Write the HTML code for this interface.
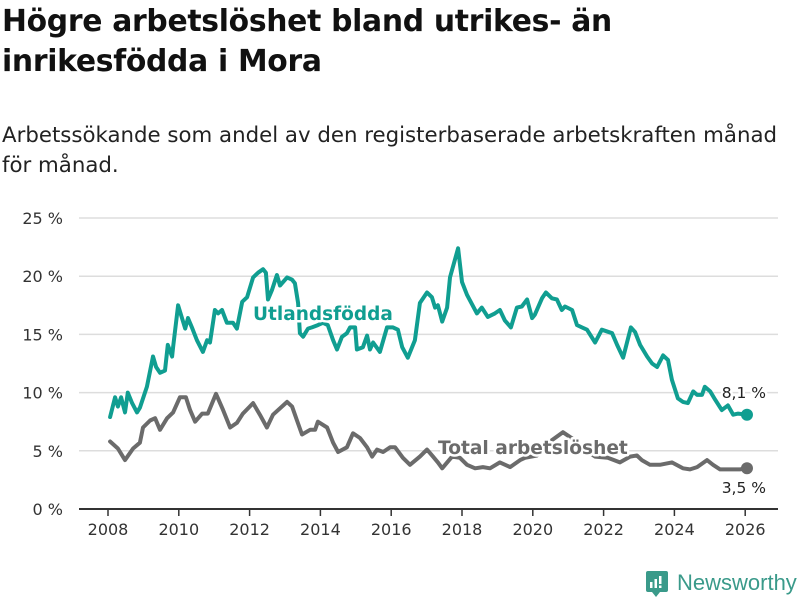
<!DOCTYPE html>
<html><head><meta charset="utf-8"><style>
body{margin:0;background:#fff;width:800px;height:600px;overflow:hidden;font-family:"Liberation Sans","DejaVu Sans",sans-serif;}
h1{position:absolute;left:2px;top:2px;margin:0;font:bold 29.8px/40px "DejaVu Sans",sans-serif;color:#111;letter-spacing:-0.3px;}
p{position:absolute;left:2px;top:121px;margin:0;font:21.3px/30px "DejaVu Sans",sans-serif;color:#222;}
</style></head><body>
<h1>Högre arbetslöshet bland utrikes- än<br>inrikesfödda i Mora</h1>
<p>Arbetssökande som andel av den registerbaserade arbetskraften månad<br>för månad.</p>
<svg id="chart" width="800" height="600" style="position:absolute;left:0;top:0" xmlns="http://www.w3.org/2000/svg"></svg>
<script>
const yTicks=[0,5,10,15,20,25];
const xTicks=[2008,2010,2012,2014,2016,2018,2020,2022,2024,2026];
const foreignYears=[2008.06,2008.2,2008.28,2008.37,2008.48,2008.56,2008.68,2008.82,2008.9,2009.1,2009.27,2009.36,2009.47,2009.61,2009.69,2009.81,2009.84,2009.98,2010.18,2010.26,2010.37,2010.51,2010.68,2010.8,2010.88,2011.02,2011.11,2011.22,2011.36,2011.53,2011.64,2011.79,2011.93,2012.1,2012.24,2012.38,2012.46,2012.52,2012.63,2012.77,2012.86,2013.06,2013.2,2013.28,2013.37,2013.42,2013.51,2013.65,2013.76,2013.93,2014.07,2014.21,2014.36,2014.47,2014.61,2014.75,2014.84,2014.98,2015.03,2015.2,2015.32,2015.4,2015.49,2015.68,2015.88,2016.05,2016.19,2016.31,2016.47,2016.67,2016.81,2017.01,2017.15,2017.24,2017.32,2017.44,2017.58,2017.66,2017.89,2018.0,2018.14,2018.42,2018.56,2018.73,2018.93,2019.07,2019.21,2019.38,2019.55,2019.69,2019.84,2019.98,2020.06,2020.26,2020.37,2020.54,2020.68,2020.82,2020.91,2021.11,2021.25,2021.39,2021.53,2021.76,2021.95,2022.24,2022.38,2022.55,2022.66,2022.77,2022.89,2023.03,2023.23,2023.37,2023.51,2023.68,2023.82,2023.93,2024.1,2024.24,2024.38,2024.53,2024.64,2024.78,2024.86,2025.01,2025.15,2025.34,2025.51,2025.66,2025.8,2026.05];
const foreignValues=[7.9,9.6,8.8,9.6,8.3,10.0,9.1,8.3,8.7,10.5,13.1,12.2,11.7,11.9,14.1,13.1,13.9,17.5,15.5,16.4,15.6,14.5,13.5,14.5,14.3,17.1,16.8,17.1,16.0,16.0,15.5,17.8,18.2,19.9,20.3,20.6,20.3,18.0,18.8,20.1,19.2,19.9,19.7,19.4,17.7,15.1,14.8,15.5,15.6,15.8,16.0,15.8,14.5,13.7,14.8,15.1,15.6,15.6,13.7,13.9,14.9,13.7,14.3,13.5,15.6,15.6,15.4,13.9,13.0,14.5,17.7,18.6,18.2,17.3,17.5,16.1,17.3,19.9,22.4,19.5,18.4,16.8,17.3,16.5,16.8,17.1,16.2,15.6,17.3,17.4,18.0,16.4,16.7,18.1,18.6,18.1,18.0,17.1,17.4,17.1,15.8,15.6,15.4,14.3,15.4,15.1,14.1,13.0,14.3,15.6,15.2,14.1,13.1,12.5,12.2,13.2,12.8,11.1,9.5,9.2,9.1,10.1,9.8,9.8,10.5,10.1,9.4,8.5,8.9,8.1,8.2,8.1];
const totalYears=[2008.06,2008.28,2008.48,2008.71,2008.9,2008.99,2009.19,2009.33,2009.47,2009.67,2009.84,2010.03,2010.2,2010.32,2010.46,2010.66,2010.82,2011.05,2011.25,2011.45,2011.64,2011.81,2012.1,2012.29,2012.49,2012.66,2013.06,2013.2,2013.34,2013.48,2013.71,2013.85,2013.93,2014.19,2014.36,2014.5,2014.75,2014.92,2015.12,2015.32,2015.46,2015.6,2015.77,2015.97,2016.11,2016.33,2016.53,2016.81,2017.01,2017.18,2017.32,2017.44,2017.72,2017.94,2018.14,2018.37,2018.59,2018.79,2019.07,2019.36,2019.64,2019.78,2020.12,2020.49,2020.85,2021.19,2021.47,2021.76,2022.12,2022.46,2022.75,2022.94,2023.08,2023.31,2023.59,2023.93,2024.24,2024.44,2024.64,2024.92,2025.09,2025.29,2025.57,2025.85,2026.05];
const totalValues=[5.8,5.2,4.2,5.2,5.7,7.0,7.6,7.8,6.8,7.8,8.3,9.6,9.6,8.5,7.5,8.2,8.2,9.9,8.5,7.0,7.4,8.2,9.1,8.1,7.0,8.1,9.2,8.8,7.6,6.4,6.8,6.8,7.5,7.0,5.7,4.9,5.3,6.5,6.1,5.3,4.5,5.1,4.9,5.3,5.3,4.4,3.8,4.5,5.1,4.5,4.0,3.5,4.5,4.4,3.8,3.5,3.6,3.5,4.0,3.6,4.2,4.4,4.6,5.8,6.6,5.9,5.1,4.5,4.4,4.0,4.5,4.6,4.2,3.8,3.8,4.0,3.5,3.4,3.6,4.2,3.8,3.4,3.4,3.4,3.5];

const NS="http://www.w3.org/2000/svg";
const svg=document.getElementById('chart');
const X=v=>108+(v-2008)*35.4;
const Y=v=>509-v*11.64;
function mk(tag,attrs,parent){const e=document.createElementNS(NS,tag);for(const k in attrs)e.setAttribute(k,attrs[k]);(parent||svg).appendChild(e);return e;}
const font='"DejaVu Sans",sans-serif';
yTicks.forEach(t=>{
  if(t>0){const g=mk('line',{x1:79,x2:778,y1:Y(t),y2:Y(t),stroke:'#ddd','stroke-width':1.5});
  
  }
  const tx=mk('text',{x:63,y:Y(t)+6,'text-anchor':'end','font-size':16,fill:'#333','font-family':font});
  tx.textContent=t+' %';
  
  
});
const ax=mk('line',{x1:79,x2:778,y1:509,y2:509,stroke:'#333','stroke-width':2});


xTicks.forEach(t=>{
  const tk=mk('line',{x1:X(t),x2:X(t),y1:509,y2:516,stroke:'#333','stroke-width':1.5});
  
  
  const tx=mk('text',{x:X(t),y:535,'text-anchor':'middle','font-size':16,fill:'#333','font-family':font});
  tx.textContent=t;
  
  
});
function series(xs,vs,color,name){
  const d=xs.map((x,i)=>(i?'L':'M')+X(x).toFixed(1)+','+Y(vs[i]).toFixed(1)).join('');
  const p=mk('path',{d:d,fill:'none',stroke:color,'stroke-width':4,'stroke-linejoin':'round','stroke-linecap':'round'});
  
  
  const c=mk('circle',{cx:X(xs[xs.length-1]),cy:Y(vs[vs.length-1]),r:6,fill:color});
  
  
}
series(totalYears,totalValues,'#6b6b6b','total');
series(foreignYears,foreignValues,'#109e91','foreign-born');
function label(txt,x,y,color,size,weight,name,anchor){
  const t=mk('text',{x:x,y:y,'font-size':size,'font-weight':weight,fill:color,'font-family':font,stroke:'#fff','stroke-width':5,'paint-order':'stroke','stroke-linejoin':'round','text-anchor':anchor||'start'});
  t.textContent=txt;
  
  
}
label('Utlandsfödda',253,320,'#109e91',18.5,'bold','foreign-born-label');
label('Total arbetslöshet',438,454,'#6b6b6b',18.6,'bold','total-label');
label(foreignValues[foreignValues.length-1].toFixed(1).replace('.',',')+' %',766,398,'#222',15.5,'normal','foreign-born-end-value','end');
label(totalValues[totalValues.length-1].toFixed(1).replace('.',',')+' %',766,493,'#222',15.5,'normal','total-end-value','end');
const lg=mk('g',{});


mk('rect',{x:646,y:571,width:22,height:21,rx:2,fill:'#3a9a8a'},lg);
mk('path',{d:'M652,592 L656,597 L660,592 Z',fill:'#3a9a8a'},lg);
mk('rect',{x:650,y:582,width:2.5,height:6,fill:'#fff'},lg);
mk('rect',{x:654.5,y:579,width:2.5,height:9,fill:'#fff'},lg);
mk('rect',{x:659,y:576,width:2.5,height:8,fill:'#fff'},lg);
mk('rect',{x:659,y:585.5,width:2.5,height:2.5,fill:'#fff'},lg);
const lt=mk('text',{x:677,y:590,'font-size':22,fill:'#3a9a8a','font-family':'"Liberation Sans",sans-serif'},lg);
lt.textContent='Newsworthy';
</script>
</body></html>
